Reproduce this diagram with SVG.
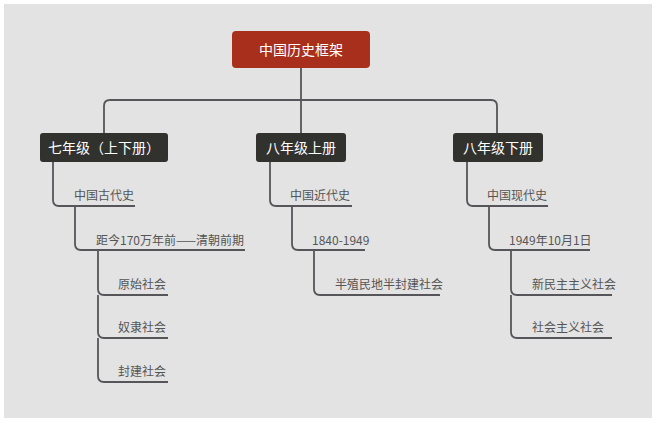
<svg xmlns="http://www.w3.org/2000/svg" width="658" height="425" viewBox="0 0 658 425">
<style>
.ln{fill:none;stroke:#56565a;stroke-width:1.8}
.t{font-family:"Noto Sans CJK SC","Liberation Sans",sans-serif;font-size:12px;fill:#555}
.h{font-family:"Noto Sans CJK SC","Liberation Sans",sans-serif;font-size:14px;fill:#fff;text-anchor:middle}
</style>
<rect width="658" height="425" fill="#fff"/>
<rect x="4" y="4" width="648" height="414" fill="#e3e3e3"/>
<g id="connectors">
<path class="ln" d="M301 68V133M104 133V106Q104 100 110 100H491Q497 100 497 106V133"/>
<path class="ln" d="M53 162V200Q53 206 59 206H135M75 206V244Q75 250 81 250H245M98 250V289Q98 295 104 295H168M98 295V332Q98 338 104 338H168M98 338V376Q98 382 104 382H168"/>
<path class="ln" d="M270 162V200Q270 206 276 206H352M292 206V244Q292 250 298 250H365M314 250V289Q314 295 320 295H440"/>
<path class="ln" d="M467 162V200Q467 206 473 206H548M489 206V244Q489 250 495 250H590M511 250V289Q511 295 517 295H612M511 295V332Q511 338 517 338H612"/>
</g>
<g id="root"><rect x="232" y="31" width="138" height="37" rx="4" fill="#a92f1d"/><text class="h" x="301" y="55" font-size="16">中国历史框架</text></g>
<g id="n1"><rect x="40" y="133" width="128" height="29" rx="3" fill="#31312e"/><text class="h" x="104" y="153">七年级（上下册）</text></g>
<g id="n2"><rect x="256" y="133" width="90" height="29" rx="3" fill="#31312e"/><text class="h" x="301" y="153">八年级上册</text></g>
<g id="n3"><rect x="453" y="133" width="90" height="29" rx="3" fill="#31312e"/><text class="h" x="498" y="153">八年级下册</text></g>
<g id="a1"><text class="t" x="74" y="200">中国古代史</text></g>
<g id="a2"><text class="t" x="96" y="245">距今170万年前——清朝前期</text></g>
<g id="a3"><text class="t" x="118" y="289">原始社会</text></g>
<g id="a4"><text class="t" x="118" y="332">奴隶社会</text></g>
<g id="a5"><text class="t" x="118" y="376">封建社会</text></g>
<g id="b1"><text class="t" x="290" y="200">中国近代史</text></g>
<g id="b2"><text class="t" x="312" y="245">1840-1949</text></g>
<g id="b3"><text class="t" x="335" y="289">半殖民地半封建社会</text></g>
<g id="c1"><text class="t" x="487" y="200">中国现代史</text></g>
<g id="c2"><text class="t" x="509" y="245">1949年10月1日</text></g>
<g id="c3"><text class="t" x="532" y="289">新民主主义社会</text></g>
<g id="c4"><text class="t" x="532" y="332">社会主义社会</text></g>
</svg>
